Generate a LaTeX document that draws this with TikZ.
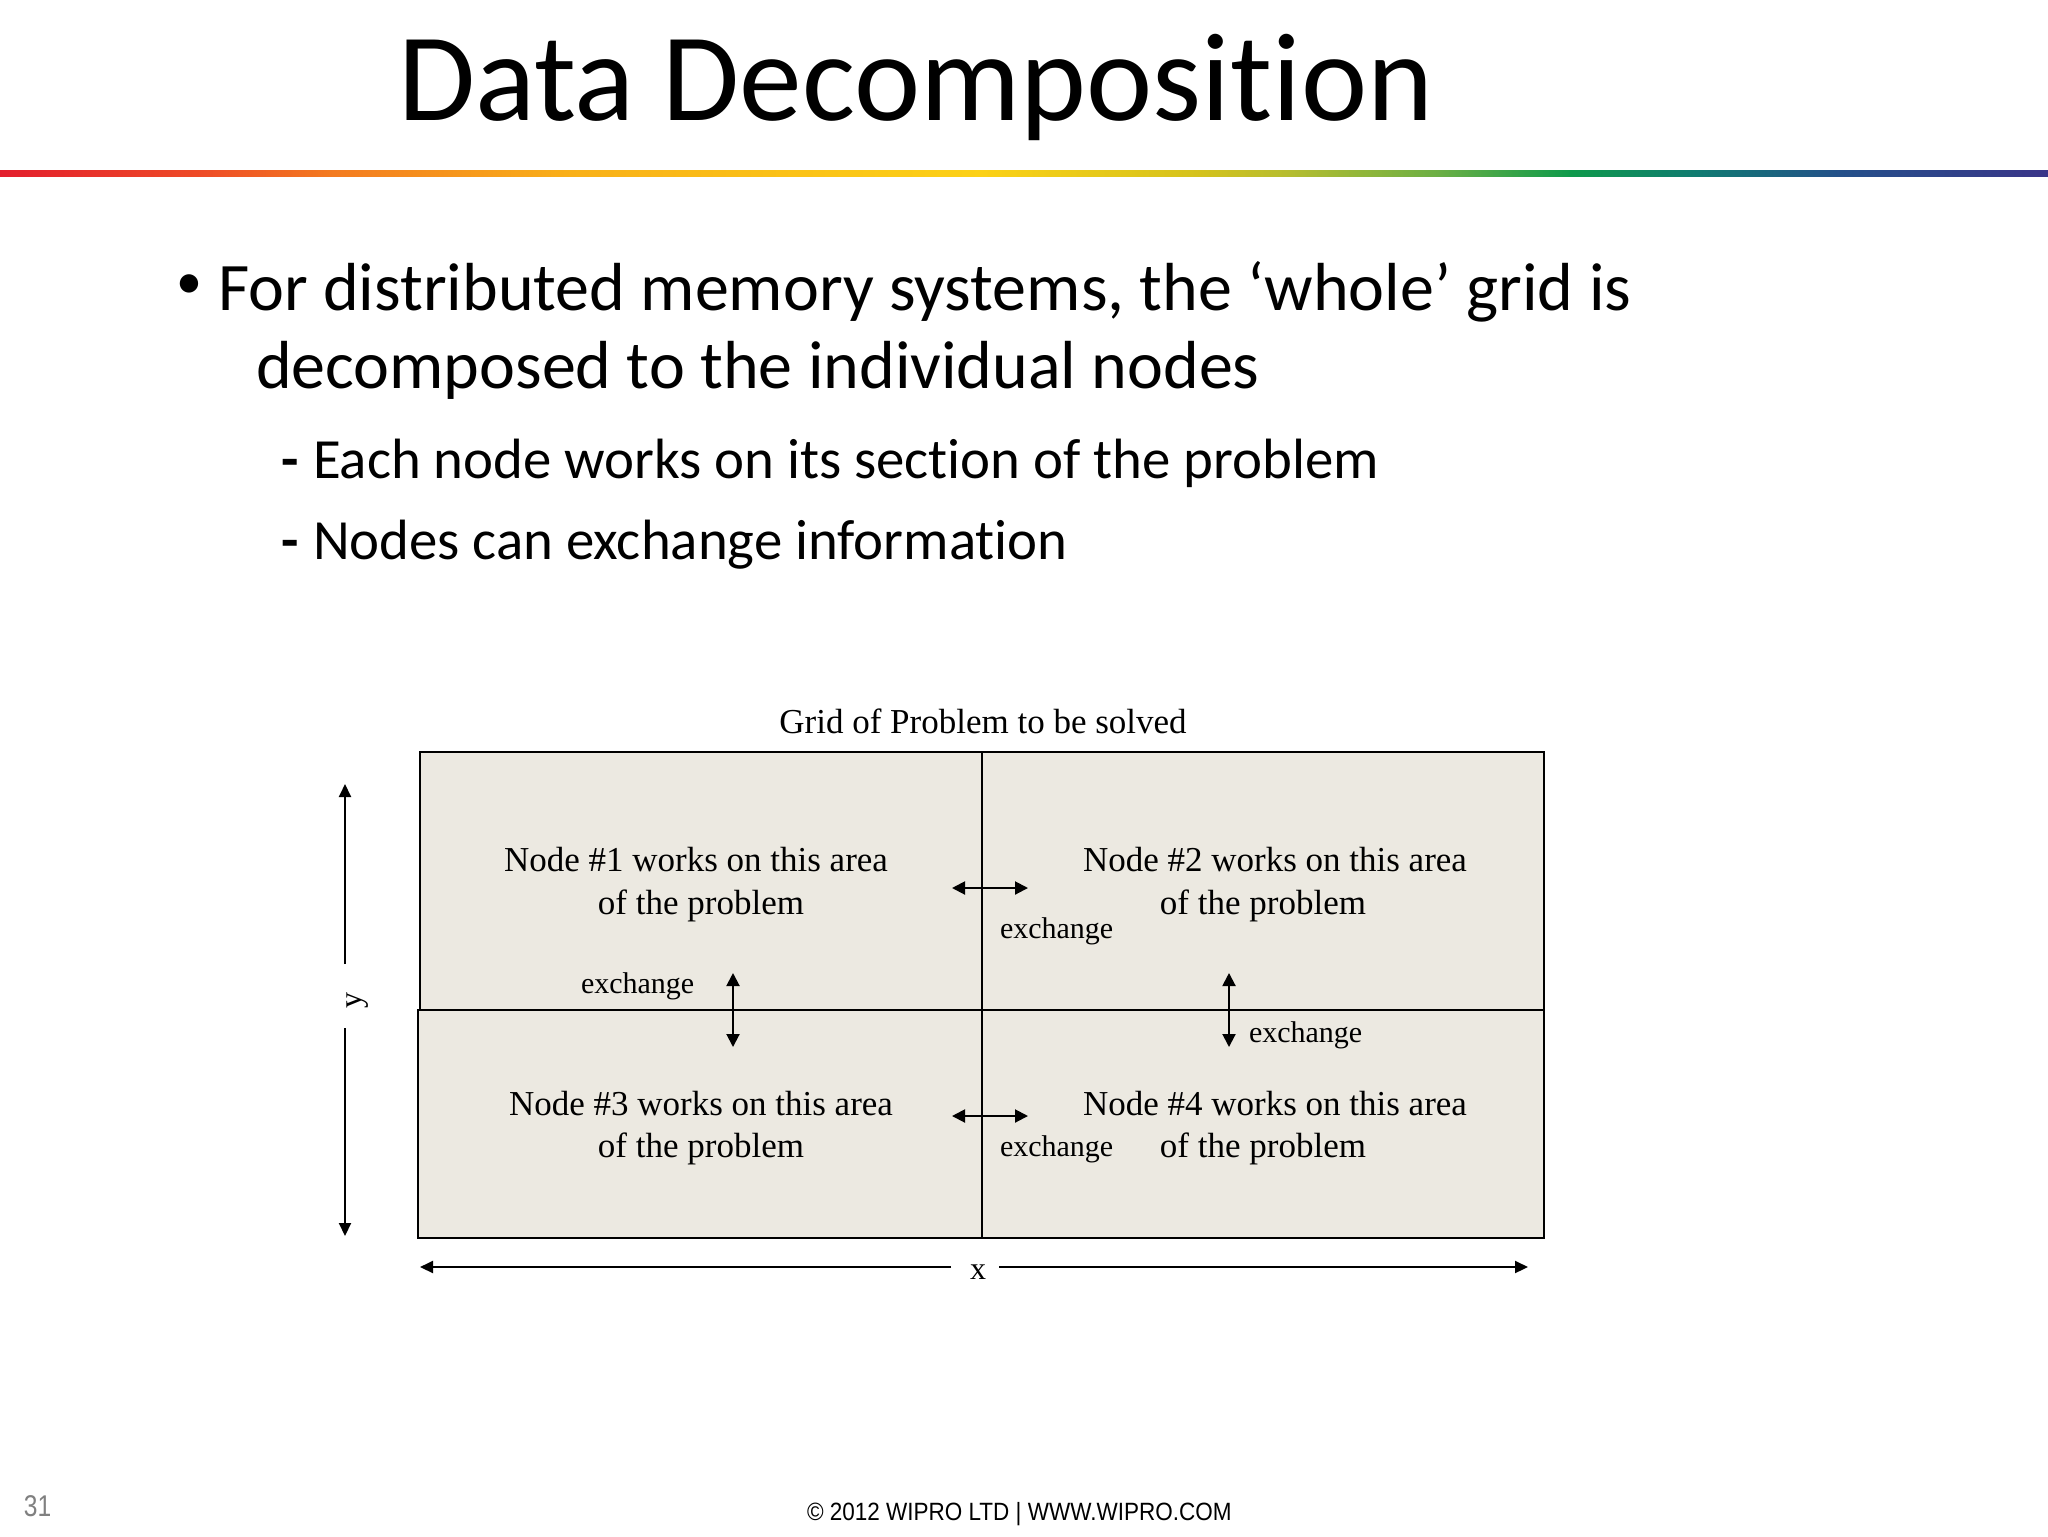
\documentclass[tikz,border=0pt]{standalone}
\usepackage{fontspec}
\setmainfont{Carlito}[Ligatures={NoCommon}]
\newfontfamily\serifdiag{Liberation Serif}
\newfontfamily\footA[FakeStretch=0.82]{Liberation Sans}
\newfontfamily\footB[FakeStretch=0.9]{Liberation Sans}
\usetikzlibrary{arrows.meta}
\definecolor{cellfill}{RGB}{236,233,225}
\definecolor{rb0}{HTML}{E31E2D}
\definecolor{rb1}{HTML}{EE4B27}
\definecolor{rb2}{HTML}{F37A20}
\definecolor{rb3}{HTML}{F9B018}
\definecolor{rb4}{HTML}{FCD116}
\definecolor{rb5}{HTML}{D4C21C}
\definecolor{rb6}{HTML}{B5BD30}
\definecolor{rb7}{HTML}{6AAF45}
\definecolor{rb8}{HTML}{0E9A4B}
\definecolor{rb9}{HTML}{107A72}
\definecolor{rb10}{HTML}{24508A}
\definecolor{rb11}{HTML}{3A3589}
\definecolor{pagenum}{RGB}{128,128,128}
\tikzset{
  txt/.style={inner sep=0pt, outer sep=0pt},
  cell/.style={draw=black, line width=1pt, fill=cellfill, inner sep=0pt, outer sep=0pt},
  celltext/.style={txt, font=\serifdiag\fontsize{17.5}{21}\selectfont, anchor=base},
  exlabel/.style={txt, font=\serifdiag\fontsize{15}{18}\selectfont, anchor=base west},
  exarrow/.style={line width=1pt, {Triangle[length=6.5pt,width=6.5pt]}-{Triangle[length=6.5pt,width=6.5pt]}},
  axisarrow/.style={line width=1pt, -{Triangle[length=6.5pt,width=6pt]}},
}
\begin{document}
\begin{tikzpicture}[x=0.5pt,y=-0.5pt]
\useasboundingbox[fill=white] (0,0) rectangle (2048,1536);

% title
\node[txt, anchor=base west, font=\fontsize{62.7}{74}\selectfont] (title) at (398,120) {Data Decomposition};

% rainbow rule
\foreach \xa/\xb/\ca/\cb in {0/200/rb0/rb1, 200/330/rb1/rb2, 330/570/rb2/rb3, 570/980/rb3/rb4, 980/1200/rb4/rb5, 1200/1290/rb5/rb6, 1290/1440/rb6/rb7, 1440/1570/rb7/rb8, 1570/1700/rb8/rb9, 1700/1840/rb9/rb10, 1840/2048/rb10/rb11}
  \shade[left color=\ca, right color=\cb] (\xa-0.5,170) rectangle (\xb+0.5,176);

% bullets
\node[txt, anchor=center, font=\fontsize{26}{30}\selectfont] (bul) at (189,287) {•};
\node[txt, anchor=base west, font=\fontsize{34}{40}\selectfont] (b1a) at (218,310) {For distributed memory systems, the ‘whole’ grid is};
\node[txt, anchor=base west, font=\fontsize{34}{40}\selectfont] (b1b) at (256,388) {decomposed to the individual nodes};
\node[txt, anchor=base west, font=\bfseries\fontsize{28.4}{34}\selectfont] (d1) at (281,478) {-};
\node[txt, anchor=base west, font=\fontsize{28.4}{34}\selectfont] (s1) at (313,478) {Each node works on its section of the problem};
\node[txt, anchor=base west, font=\bfseries\fontsize{28.4}{34}\selectfont] (d2) at (281,559) {-};
\node[txt, anchor=base west, font=\fontsize{28.4}{34}\selectfont] (s2) at (313,559) {Nodes can exchange information};

% diagram
\node[txt, anchor=base, font=\serifdiag\fontsize{17.5}{21}\selectfont] (gridtitle) at (983,733) {Grid of Problem to be solved};

\path[cell] (420,752) rectangle (982,1010);
\path[cell] (982,752) rectangle (1544,1010);
\path[cell] (418,1010) rectangle (982,1238);
\path[cell] (982,1010) rectangle (1544,1238);
\node[txt, minimum width=281pt, minimum height=129pt, anchor=north west] (c1) at (420,752) {};
\node[txt, minimum width=281pt, minimum height=129pt, anchor=north west] (c2) at (982,752) {};
\node[txt, minimum width=282pt, minimum height=114pt, anchor=north west] (c3) at (418,1010) {};
\node[txt, minimum width=281pt, minimum height=114pt, anchor=north west] (c4) at (982,1010) {};

\node[celltext] (t1a) at (696,871) {Node \#1 works on this area};
\node[celltext] (t1b) at (701,914) {of the problem};
\node[celltext] (t2a) at (1275,871) {Node \#2 works on this area};
\node[celltext] (t2b) at (1263,914) {of the problem};
\node[celltext] (t3a) at (701,1115) {Node \#3 works on this area};
\node[celltext] (t3b) at (701,1157) {of the problem};
\node[celltext] (t4a) at (1275,1115) {Node \#4 works on this area};
\node[celltext] (t4b) at (1263,1157) {of the problem};

% exchange arrows
\coordinate (h1l) at (952,888); \coordinate (h1r) at (1028,888);
\coordinate (h2l) at (952,1116); \coordinate (h2r) at (1028,1116);
\coordinate (v1t) at (733,973); \coordinate (v1b) at (733,1047);
\coordinate (v2t) at (1229,973); \coordinate (v2b) at (1229,1047);
\draw[exarrow] (h1l) -- (h1r);
\draw[exarrow] (h2l) -- (h2r);
\draw[exarrow] (v1t) -- (v1b);
\draw[exarrow] (v2t) -- (v2b);
\node[exlabel] (e1) at (1000,938) {exchange};
\node[exlabel] (e2) at (1000,1156) {exchange};
\node[exlabel] (e3) at (581,993) {exchange};
\node[exlabel] (e4) at (1249,1042) {exchange};

% axes
\coordinate (ytop) at (345,784); \coordinate (ybot) at (345,1236);
\coordinate (yg1) at (345,964); \coordinate (yg2) at (345,1028);
\node[txt, rotate=90, font=\serifdiag\fontsize{16}{19}\selectfont] (ylab) at (358,1000) {y};
\draw[axisarrow] (yg1) -- (ytop);
\draw[axisarrow] (yg2) -- (ybot);
\coordinate (xl) at (420,1267); \coordinate (xr) at (1528,1267);
\coordinate (xg1) at (951,1267); \coordinate (xg2) at (999,1267);
\node[txt, font=\serifdiag\fontsize{16}{19}\selectfont] (xlab) at (978,1272) {x};
\draw[axisarrow] (xg1) -- (xl);
\draw[axisarrow] (xg2) -- (xr);

% footer
\node[txt, anchor=base west, text=pagenum, font=\footA\fontsize{15}{18}\selectfont] (pnum) at (24,1516) {31};
\node[txt, anchor=base west, font=\footB\fontsize{12.5}{15}\selectfont] (copy) at (807,1520) {© 2012 WIPRO LTD | WWW.WIPRO.COM};
\end{tikzpicture}
\end{document}
